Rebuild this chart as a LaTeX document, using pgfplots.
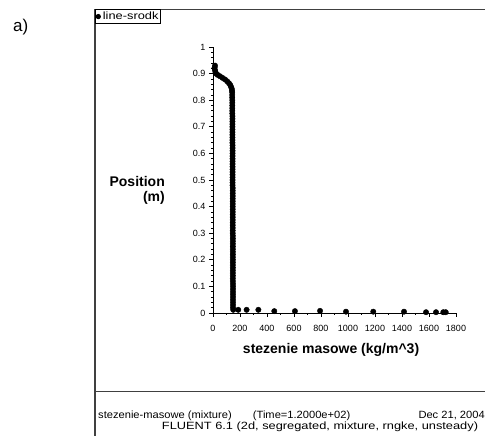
\documentclass[border=0pt]{standalone}
\usepackage{fontspec}
\setmainfont{Liberation Sans}
\usepackage{graphicx}
\usepackage{pgfplots}
\pgfplotsset{compat=1.18}

\begin{document}
\begin{tikzpicture}
\path[use as bounding box] (0pt,0pt) rectangle (485pt,436pt);
\clip (0pt,0pt) rectangle (485pt,436pt);
% figure tag and FLUENT frame
\node[anchor=base west, inner sep=0pt, font=\fontsize{17}{17}\selectfont] at (13pt,404pt) {a)};
\draw[black!75, line width=1.2pt] (95pt,-5pt) -- (95pt,426.7pt) -- (495pt,426.7pt);
\draw[black!75, line width=1pt] (95pt,44.3pt) -- (495pt,44.3pt);
\begin{scope}[every node/.style={anchor=base west, inner sep=0pt, font=\fontsize{10.5}{10.5}\selectfont}]
\node[xscale=1.06] at (98pt,17.6pt) {stezenie-masowe (mixture)};
\node[xscale=1.06] at (252.7pt,17.6pt) {(Time=1.2000e+02)};
\node[xscale=1.06] at (418.3pt,17.6pt) {Dec 21, 2004};
\node[xscale=1.22] at (161.7pt,6.6pt) {FLUENT 6.1 (2d, segregated, mixture, rngke, unsteady)};
\end{scope}

\begin{axis}[
    at={(213pt,123pt)}, anchor=south west,
    scale only axis, width=243pt, height=266pt,
    xmin=0, xmax=1800, ymin=0, ymax=1,
    axis x line=bottom, axis y line=left,
    axis line style={-, line width=0.8pt},
    tick align=outside,
    xtick={0,200,...,1800},
    ytick={0,0.1,0.2,0.3,0.4,0.5,0.6,0.7,0.8,0.9,1},
    yticklabels={0,0.1,0.2,0.3,0.4,0.5,0.6,0.7,0.8,0.9,1},
    minor x tick num=1, minor y tick num=4,
    major tick length=4pt, minor tick length=2pt,
    tick style={line width=0.7pt, black},
    ticklabel style={font=\fontsize{9}{9}\selectfont},
    xticklabel style={yshift=-5pt},
    /pgf/number format/assume math mode=true,
    /pgf/number format/1000 sep={},
    scaled ticks=false,
    every axis x label/.style={at={(axis description cs:0.486,-0.14)}, anchor=center,
        font=\bfseries\fontsize{14}{14}\selectfont},
    every axis y label/.style={at={(axis description cs:-0.1975,0.462)}, anchor=east,
        align=right, inner sep=0pt, font=\bfseries\fontsize{14}{15}\selectfont},
    xlabel={stezenie masowe (kg/m\^{}3)},
    ylabel={Position\\(m)},
    clip=false,
    legend style={at={(axis description cs:-0.4856,1.1417)}, anchor=north west,
        draw=black, line width=0.8pt, inner sep=0.3pt, font=\fontsize{10.5}{10.5}\selectfont,
        /tikz/every even column/.append style={column sep=1pt}},
    legend image code/.code={\fill[black] (0.14cm,0pt) circle (2.2pt);},
]
\addplot[only marks, mark=*, mark size=2.7pt, black] coordinates {
    (15,0.930) (12,0.922) (14,0.914) (18,0.906) (22,0.900) (35,0.895)
    (52,0.890) (70,0.884) (89,0.878) (105,0.871) (118,0.864) (128,0.857)
    (134,0.850) (139,0.843) (141,0.836) (142,0.830) (142,0.82) (142,0.81)
    (143,0.80) (143,0.79) (143,0.78) (143,0.77) (143,0.76) (143,0.75)
    (144,0.74) (144,0.73) (144,0.72) (144,0.71) (144,0.70) (144,0.69)
    (144,0.68) (144,0.67) (144,0.66) (144,0.65) (144,0.64) (145,0.63)
    (145,0.62) (145,0.61) (145,0.60) (145,0.59) (145,0.58) (145,0.57)
    (145,0.56) (145,0.55) (145,0.54) (145,0.53) (145,0.52) (145,0.51)
    (145,0.50) (145,0.49) (145,0.48) (146,0.47) (146,0.46) (146,0.45)
    (146,0.44) (146,0.43) (146,0.42) (146,0.41) (146,0.40) (146,0.39)
    (146,0.38) (146,0.37) (146,0.36) (146,0.35) (146,0.34) (146,0.33)
    (146,0.32) (146,0.31) (146,0.30) (147,0.29) (147,0.28) (147,0.27)
    (147,0.26) (147,0.25) (147,0.24) (147,0.23) (147,0.22) (147,0.21)
    (147,0.20) (147,0.19) (147,0.18) (147,0.17) (147,0.16) (147,0.15)
    (147,0.14) (147,0.13) (147,0.12) (148,0.11) (148,0.10) (148,0.09)
    (148,0.08) (148,0.07) (148,0.06) (148,0.05) (148,0.04) (148,0.03)
    (148,0.02) (150,0.012) (187,0.012) (249,0.012) (336,0.012)
    (454,0.007) (607,0.007) (793,0.008) (985,0.005) (1187,0.005)
    (1415,0.005) (1578,0.003) (1652,0.003) (1706,0.003) (1724,0.003)
};
\addlegendentry{\scalebox{1.22}[1]{line-srodk}}
\end{axis}
\end{tikzpicture}
\end{document}
